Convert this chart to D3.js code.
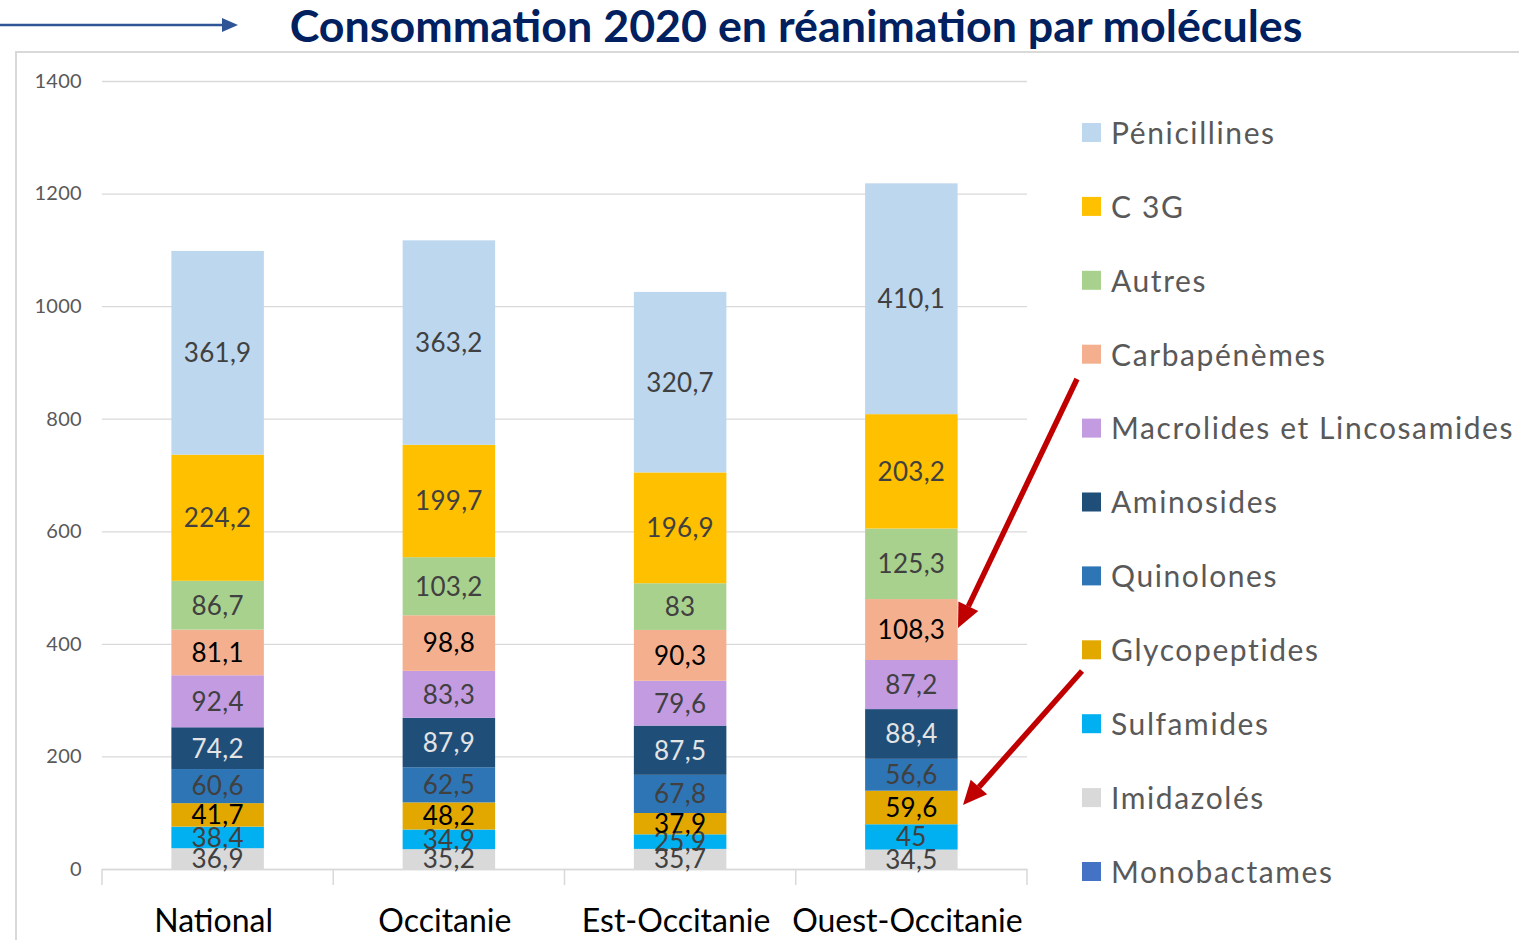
<!DOCTYPE html>
<html><head><meta charset="utf-8">
<script src="https://cdn.jsdelivr.net/npm/d3@7"></script>
<style>body{margin:0;background:#fff}svg{display:block}</style>
</head><body>
<svg id="c" width="1519" height="940"></svg>
<script>
const title = "Consommation 2020 en réanimation par molécules";
const categories = ["National", "Occitanie", "Est-Occitanie", "Ouest-Occitanie"];
// series from bottom of the stack to the top
const seriesNames = ["Monobactames","Imidazolés","Sulfamides","Glycopeptides","Quinolones","Aminosides","Macrolides et Lincosamides","Carbapénèmes","Autres","C 3G","Pénicillines"];
const monobactames = [0, 0, 0, 0];
const imidazoles = [36.9, 35.2, 35.7, 34.5];
const sulfamides = [38.4, 34.9, 25.9, 45];
const glycopeptides = [41.7, 48.2, 37.9, 59.6];
const quinolones = [60.6, 62.5, 67.8, 56.6];
const aminosides = [74.2, 87.9, 87.5, 88.4];
const macrolides = [92.4, 83.3, 79.6, 87.2];
const carbapenemes = [81.1, 98.8, 90.3, 108.3];
const autres = [86.7, 103.2, 83, 125.3];
const c3g = [224.2, 199.7, 196.9, 203.2];
const penicillines = [361.9, 363.2, 320.7, 410.1];
const yTicks = [0, 200, 400, 600, 800, 1000, 1200, 1400];
const seriesValues = [monobactames, imidazoles, sulfamides, glycopeptides, quinolones, aminosides, macrolides, carbapenemes, autres, c3g, penicillines];

const fillColors = {"Monobactames":"#4472C4","Imidazolés":"#D9D9D9","Sulfamides":"#00B0F0","Glycopeptides":"#E2A800","Quinolones":"#2E75B6","Aminosides":"#1F4E79","Macrolides et Lincosamides":"#C39BE0","Carbapénèmes":"#F4B08E","Autres":"#A9D18E","C 3G":"#FFC000","Pénicillines":"#BDD7EE"};
const labelColors = {"Aminosides":"#E4E4E4","Carbapénèmes":"#000000","Glycopeptides":"#000000"};

const rows = categories.map((c, i) => {
  const r = {cat: c};
  seriesNames.forEach((s, j) => r[s] = seriesValues[j][i]);
  return r;
});
const stacked = d3.stack().keys(seriesNames)(rows);

const svg = d3.select("#c");
const FONT = "Lato, 'Open Sans', sans-serif";

const x = d3.scaleBand().domain(categories).range([102, 1027]).paddingInner(0.6).paddingOuter(0.3);
const y = d3.scaleLinear().domain([0, 1400]).range([869, 81]);

// frame
svg.append("path").attr("d", "M16,940 V52 H1519").attr("fill", "none").attr("stroke", "#D9D9D9").attr("stroke-width", 2);

// top-left blue arrow
svg.append("line").attr("x1", 0).attr("x2", 224).attr("y1", 25).attr("y2", 25).attr("stroke", "#2F5597").attr("stroke-width", 2.5);
svg.append("path").attr("d", "M222,18 L238,25 L222,32 Z").attr("fill", "#2F5597");

// title
const t = svg.append("text").attr("x", 796).attr("y", 42).attr("text-anchor", "middle")
  .attr("font-family", FONT).attr("font-weight", 700).attr("font-size", 40).attr("fill", "#002060").text(title);
const tw = t.node().getComputedTextLength();
t.attr("font-size", 40 * 1013 / tw);

// gridlines
const yAxis = d3.axisLeft(y).tickValues(yTicks).tickSize(-(1027 - 102)).tickPadding(20).tickFormat(d3.format("d"));
const ga = svg.append("g").attr("transform", "translate(102,0)").call(yAxis);
ga.select(".domain").remove();
ga.selectAll(".tick line").attr("stroke", "#D9D9D9").attr("stroke-width", 1.3);
ga.selectAll(".tick text").attr("font-family", FONT).attr("font-size", 20).attr("letter-spacing", 0.3).attr("fill", "#595959");

// bars
const layers = svg.append("g").selectAll("g").data(stacked).join("g").attr("fill", d => fillColors[d.key]);
layers.selectAll("rect").data(d => d.map(v => ({v, key: d.key}))).join("rect")
  .attr("x", d => x(d.v.data.cat)).attr("width", x.bandwidth())
  .attr("y", d => y(d.v[1])).attr("height", d => y(d.v[0]) - y(d.v[1]));

// x axis
const xa = d3.axisBottom(x).tickSize(0).tickPadding(0);
const gx = svg.append("g").attr("transform", "translate(0,869)").call(xa);
gx.select(".domain").attr("stroke", "#D9D9D9").attr("stroke-width", 1.5);
gx.selectAll(".tick text").remove();
const bounds = categories.map(c => x(c) - x.step() * x.paddingInner() / 2).concat([1027]);
bounds[0] = 102;
gx.selectAll("line.sep").data(bounds).join("line").attr("class", "sep")
  .attr("x1", d => d).attr("x2", d => d).attr("y1", 0).attr("y2", 16).attr("stroke", "#D9D9D9").attr("stroke-width", 1.5);
svg.append("g").selectAll("text").data(categories).join("text")
  .attr("x", d => x(d) + x.bandwidth() / 2 - 4).attr("y", 932).attr("text-anchor", "middle")
  .attr("font-family", FONT).attr("font-size", 32).attr("fill", "#000").text(d => d);

// value labels
const fmt = v => String(v).replace(".", ",");
svg.append("g").selectAll("g").data(stacked).join("g")
  .selectAll("text").data(d => d.filter(v => v[1] - v[0] > 0).map(v => ({v, key: d.key}))).join("text")
  .attr("x", d => x(d.v.data.cat) + x.bandwidth() / 2)
  .attr("y", d => (y(d.v[0]) + y(d.v[1])) / 2).attr("dy", "0.36em")
  .attr("text-anchor", "middle").attr("font-family", FONT).attr("font-size", 26).attr("letter-spacing", 0.3)
  .attr("fill", d => labelColors[d.key] || "#404040")
  .text(d => fmt(+(d.v[1] - d.v[0]).toFixed(1)));

// legend (top series first)
const legendItems = seriesNames.slice().reverse();
const lg = svg.append("g").selectAll("g").data(legendItems).join("g")
  .attr("transform", (d, i) => `translate(1082,${133 + i * 73.9})`);
lg.append("rect").attr("x", 0).attr("y", -10).attr("width", 19).attr("height", 19).attr("fill", d => fillColors[d]);
lg.append("text").attr("x", 29).attr("y", 0).attr("dy", "0.36em").attr("font-family", FONT).attr("font-size", 30)
  .attr("letter-spacing", 1.6).attr("fill", "#595959").text(d => d);

// red annotation arrows
const arrows = [[1077, 379, 958, 628], [1082, 671, 963, 805]];
arrows.forEach(([x1, y1, x2, y2]) => {
  const ang = Math.atan2(y2 - y1, x2 - x1);
  const hl = 24, hw = 11;
  const bx = x2 - hl * Math.cos(ang), by = y2 - hl * Math.sin(ang);
  svg.append("line").attr("x1", x1).attr("y1", y1).attr("x2", bx).attr("y2", by).attr("stroke", "#C00000").attr("stroke-width", 5.5);
  const px = -Math.sin(ang), py = Math.cos(ang);
  svg.append("path").attr("d", `M${x2},${y2} L${bx + px * hw},${by + py * hw} L${bx - px * hw},${by - py * hw} Z`).attr("fill", "#C00000");
});
</script>
</body></html>
